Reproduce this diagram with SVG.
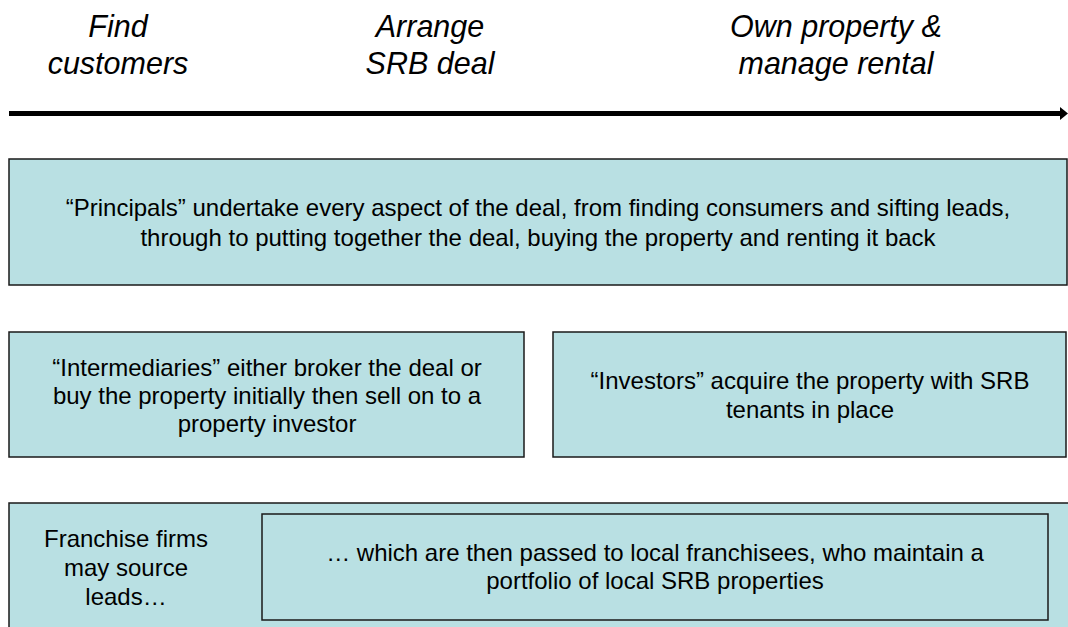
<svg xmlns="http://www.w3.org/2000/svg" width="1068" height="627" viewBox="0 0 1068 627">
<defs>
<style>
.hdr{font-family:"Liberation Sans",Arial,sans-serif;font-style:italic;font-size:30.5px;fill:#000;text-anchor:middle}
.box{fill:#b9e0e3;stroke:#1a1a1a;stroke-width:1.5}
.t{font-family:"Liberation Sans",Arial,sans-serif;font-size:24px;fill:#000;text-anchor:middle}
</style>
</defs>
<rect width="1068" height="627" fill="#fff"/>
<g id="header">
<text class="hdr" x="118" y="37">Find</text>
<text class="hdr" x="118" y="74">customers</text>
<text class="hdr" x="430" y="37">Arrange</text>
<text class="hdr" x="430" y="74">SRB deal</text>
<text class="hdr" x="836" y="37">Own property &amp;</text>
<text class="hdr" x="836" y="74">manage rental</text>
</g>
<g id="connectors">
<line x1="9" y1="113.5" x2="1062" y2="113.5" stroke="#000" stroke-width="5"/>
<path d="M1060,107 L1068,113.5 L1060,120 Z" fill="#000"/>
</g>
<g id="principals">
<rect class="box" x="9" y="159" width="1058" height="126"/>
<text class="t" x="538" y="216">“Principals” undertake every aspect of the deal, from finding consumers and sifting leads,</text>
<text class="t" x="538" y="246">through to putting together the deal, buying the property and renting it back</text>
</g>
<g id="intermediaries">
<rect class="box" x="9" y="332" width="515" height="125"/>
<text class="t" x="267" y="376">“Intermediaries” either broker the deal or</text>
<text class="t" x="267" y="404">buy the property initially then sell on to a</text>
<text class="t" x="267" y="432">property investor</text>
</g>
<g id="investors">
<rect class="box" x="553" y="332" width="513" height="125"/>
<text class="t" x="810" y="389">“Investors” acquire the property with SRB</text>
<text class="t" x="810" y="418">tenants in place</text>
</g>
<g id="franchise">
<rect class="box" x="9" y="503" width="1065" height="130"/>
<text class="t" x="126" y="547">Franchise firms</text>
<text class="t" x="126" y="576">may source</text>
<text class="t" x="126" y="605">leads…</text>
</g>
<g id="franchisees">
<rect class="box" x="262" y="514" width="786" height="106"/>
<text class="t" x="655" y="561">… which are then passed to local franchisees, who maintain a</text>
<text class="t" x="655" y="589">portfolio of local SRB properties</text>
</g>
</svg>
